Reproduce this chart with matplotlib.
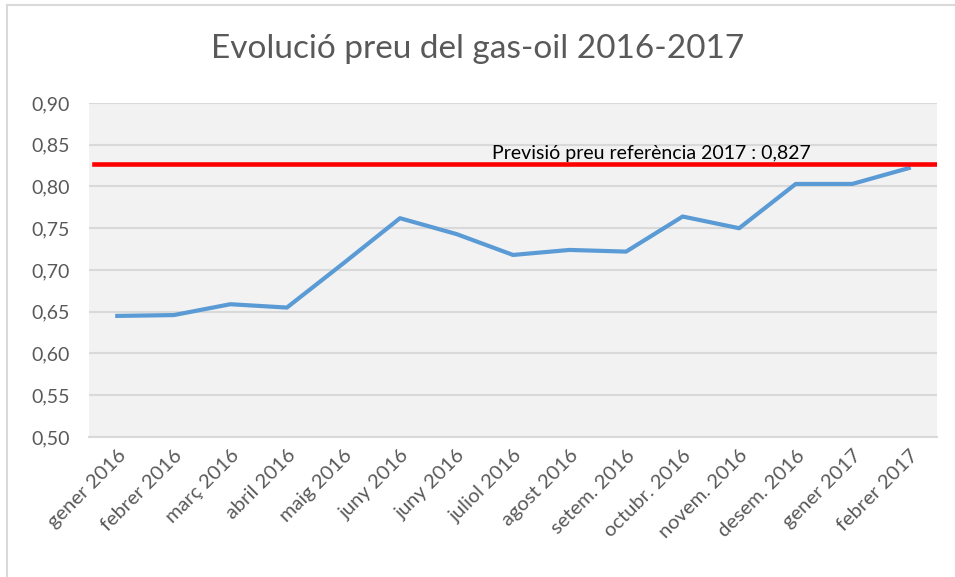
import matplotlib.pyplot as plt
from matplotlib.lines import Line2D

months = ['gener 2016', 'febrer 2016', 'març 2016', 'abril 2016', 'maig 2016',
          'juny 2016', 'juny 2016', 'juliol 2016', 'agost 2016', 'setem. 2016',
          'octubr. 2016', 'novem. 2016', 'desem. 2016', 'gener 2017', 'febrer 2017']
preu = [0.645, 0.646, 0.659, 0.655, 0.708, 0.762, 0.743, 0.718, 0.724, 0.722,
        0.764, 0.750, 0.803, 0.803, 0.822]
previsio = 0.827
yticks = [0.50, 0.55, 0.60, 0.65, 0.70, 0.75, 0.80, 0.85, 0.90]

plt.rcParams['font.family'] = ['Lato', 'DejaVu Sans']

fig = plt.figure(figsize=(9.55, 5.77), dpi=100)
ax = fig.add_axes([0.0932, 0.2426, 0.888, 0.579])
ax.set_facecolor('#f2f2f2')

x = list(range(len(months)))
ax.plot(x, preu, color='#5b9bd5', linewidth=3.0, solid_joinstyle='round', zorder=3)
ax.axhline(previsio, xmin=0.006, xmax=1, color='#ff0000', linewidth=3.3, zorder=4)
ax.text(6.63, previsio + 0.0025, 'Previsió preu referència 2017 : 0,827',
        fontsize=14, color='black', va='bottom', ha='left')

ax.set_xlim(-0.5, len(months) - 0.5)
ax.set_ylim(0.50, 0.90)
ax.set_yticks(yticks)
ax.set_yticklabels(['{:.2f}'.format(v).replace('.', ',') for v in yticks])
ax.set_xticks(x)
ax.set_xticklabels(months, rotation=45, ha='right', rotation_mode='anchor')
ax.tick_params(axis='both', length=0, colors='#595959')
ax.tick_params(axis='x', pad=7, labelsize=14.5)
ax.tick_params(axis='y', pad=14, labelsize=14)
ax.grid(axis='y', color='#d9d9d9', linewidth=1.5)
ax.set_axisbelow(True)
for s in ['top', 'right', 'left']:
    ax.spines[s].set_visible(False)
ax.spines['bottom'].set_color('#d9d9d9')
ax.spines['bottom'].set_linewidth(1.5)

fig.text(0.5, 0.915, 'Evolució preu del gas-oil 2016-2017', ha='center', va='center',
         fontsize=24, color='#595959')

# chart border (top and left only visible)
fig.add_artist(Line2D([7 / 955, 7 / 955], [0, 1 - 5 / 577], transform=fig.transFigure,
                      color='#d9d9d9', linewidth=1.5))
fig.add_artist(Line2D([7 / 955, 1], [1 - 5 / 577, 1 - 5 / 577], transform=fig.transFigure,
                      color='#d9d9d9', linewidth=1.5))

fig.savefig('out.png', dpi=100)
